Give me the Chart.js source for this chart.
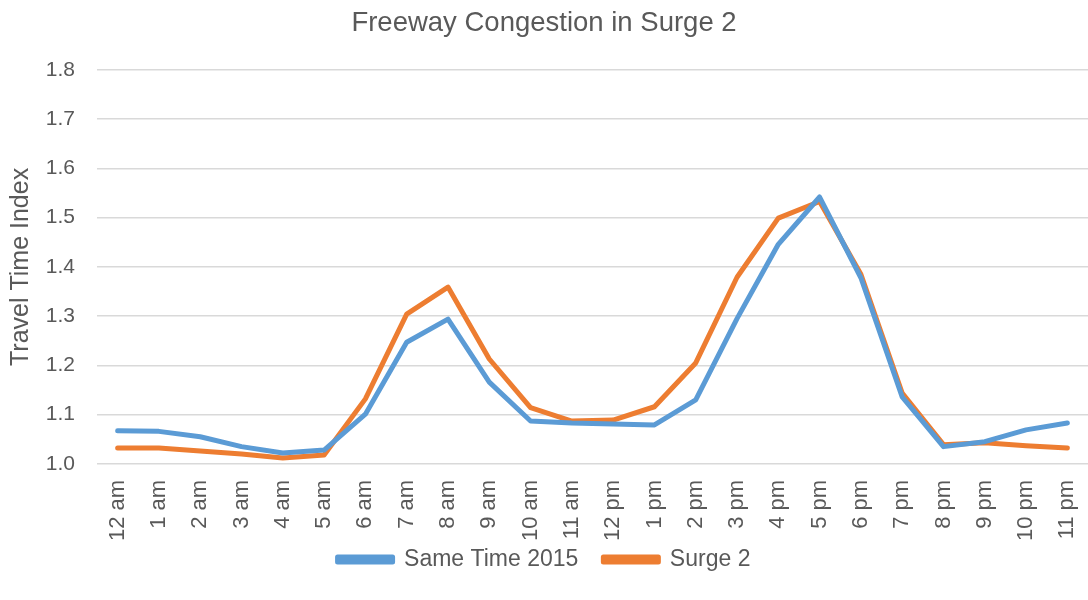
<!DOCTYPE html>
<html>
<head>
<meta charset="utf-8">
<script src="https://cdn.jsdelivr.net/npm/chart.js@4/dist/chart.umd.min.js"></script>
<style>
  html, body { margin: 0; padding: 0; background: #ffffff; }
  #wrap { width: 1088px; height: 600px; }
</style>
</head>
<body>
<div id="wrap"><canvas id="c" width="1088" height="600"></canvas></div>
<script>
const categories = ["12 am","1 am","2 am","3 am","4 am","5 am","6 am","7 am","8 am","9 am","10 am","11 am",
                    "12 pm","1 pm","2 pm","3 pm","4 pm","5 pm","6 pm","7 pm","8 pm","9 pm","10 pm","11 pm"];
const sameTime2015 = [1.067,1.066,1.055,1.035,1.022,1.028,1.101,1.247,1.294,1.166,1.087,1.083,
                      1.081,1.079,1.130,1.295,1.446,1.542,1.378,1.136,1.035,1.045,1.069,1.083];
const surge2 = [1.032,1.032,1.026,1.020,1.012,1.018,1.132,1.304,1.359,1.213,1.114,1.087,
                1.089,1.116,1.205,1.379,1.499,1.533,1.385,1.144,1.039,1.043,1.037,1.032];
const yTicks = [1.0,1.1,1.2,1.3,1.4,1.5,1.6,1.7,1.8];

const FONT = "'Liberation Sans', Arial, sans-serif";
const TXT = '#595959';
const X_PAD = 16;

const legendShift = {
  id: 'legendShift',
  afterLayout(chart) {
    if (chart.legend) { chart.legend.top -= 19; chart.legend.bottom -= 19; }
  }
};

new Chart(document.getElementById('c'), {
  type: 'line',
  data: {
    labels: categories,
    datasets: [
      { label: 'Same Time 2015', data: sameTime2015, borderColor: '#5B9BD5', backgroundColor: '#5B9BD5',
        borderWidth: 5, pointRadius: 0, tension: 0, borderCapStyle: 'round', borderJoinStyle: 'round' },
      { label: 'Surge 2', data: surge2, borderColor: '#ED7D31', backgroundColor: '#ED7D31',
        borderWidth: 5, pointRadius: 0, tension: 0, borderCapStyle: 'round', borderJoinStyle: 'round' }
    ]
  },
  plugins: [legendShift],
  options: {
    responsive: false,
    animation: false,
    layout: { padding: { left: 0, right: 0, top: 0, bottom: 0 } },
    plugins: {
      title: { display: true, text: 'Freeway Congestion in Surge 2', color: TXT,
               font: { family: FONT, size: 27.5, weight: 'normal' }, padding: { top: 7, bottom: 30 } },
      legend: { position: 'bottom',
        labels: { color: TXT, font: { family: FONT, size: 23 }, boxWidth: 55, boxHeight: 5, padding: 25 } },
      tooltip: { enabled: false }
    },
    scales: {
      x: {
        offset: true,
        afterFit: (s) => { s.paddingLeft = 0; s.paddingRight = 0; s.height = s.height - X_PAD + 1; },
        grid: { display: false, drawTicks: false },
        border: { display: false },
        ticks: { color: TXT, font: { family: FONT, size: 22 }, maxRotation: 90, minRotation: 90, padding: X_PAD, autoSkip: false }
      },
      y: {
        min: 1.0, max: 1.8,
        afterBuildTicks: (s) => { s.ticks = yTicks.map(v => ({ value: v })); },
        afterFit: (s) => { s.width = 97; },
        grid: { color: '#D9D9D9', lineWidth: 1.5, drawTicks: false },
        border: { display: false },
        title: { display: true, text: 'Travel Time Index', color: TXT, font: { family: FONT, size: 25 }, padding: { top: 6, bottom: 0 } },
        ticks: { color: TXT, font: { family: FONT, size: 21 }, padding: 22, callback: (v) => Number(v).toFixed(1) }
      }
    }
  }
});
</script>
</body>
</html>
